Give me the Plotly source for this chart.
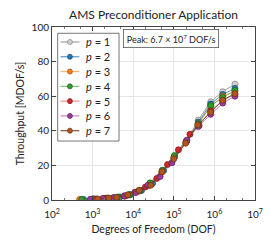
import plotly.graph_objects as go

title = "AMS Preconditioner Application"
orders = [1, 2, 3, 4, 5, 6, 7]
legend_labels = [f"<i>p</i> = {p}" for p in orders]

dof_p1 = [520, 1040, 2080, 4160, 8000, 15000, 27000, 52000, 102000, 205000, 400000, 810000, 1600000, 3200000]
dof_p2 = [600, 1200, 2400, 4700, 8500, 16000, 30000, 56000, 104000, 206000, 400000, 810000, 1600000, 3200000]
dof_p3 = [480, 960, 1900, 3800, 7000, 13000, 25000, 50000, 100000, 200000, 395000, 810000, 1600000, 3200000]
dof_p4 = [540, 1080, 2200, 4300, 8200, 14500, 26000, 52000, 104000, 205000, 400000, 810000, 1600000, 3200000]
dof_p5 = [1000, 1900, 3300, 6200, 11000, 20000, 38000, 70000, 130000, 250000, 420000, 810000, 1600000, 3200000]
dof_p6 = [880, 1750, 3200, 6000, 11500, 23000, 46000, 90000, 210000, 400000, 810000, 1600000, 3200000]
dof_p7 = [1330, 2500, 3900, 7400, 14000, 27000, 51500, 100000, 195000, 390000, 810000, 1600000, 3200000]

thr_p1 = [0.3, 0.6, 1.0, 1.6, 3.0, 5.4, 9.2, 16.6, 25.0, 34.2, 46.2, 56.8, 62.6, 67.0]
thr_p2 = [0.3, 0.6, 1.1, 1.7, 3.0, 5.5, 9.6, 17.0, 24.8, 33.8, 45.0, 55.5, 61.0, 64.5]
thr_p3 = [0.3, 0.5, 0.9, 1.5, 2.6, 4.8, 8.6, 16.0, 24.5, 33.5, 44.0, 54.0, 60.0, 63.0]
thr_p4 = [0.3, 0.6, 1.1, 1.7, 3.2, 5.6, 9.9, 17.2, 25.7, 34.0, 44.0, 54.6, 59.2, 63.3]
thr_p5 = [0.5, 0.9, 1.3, 2.2, 4.5, 7.5, 12.5, 20.5, 29.0, 38.0, 43.0, 51.5, 57.5, 61.0]
thr_p6 = [0.4, 0.8, 1.3, 2.4, 4.3, 8.5, 13.6, 21.5, 34.6, 42.5, 49.5, 56.0, 60.0]
thr_p7 = [0.6, 1.1, 1.5, 3.0, 5.6, 8.5, 16.4, 23.8, 32.8, 43.4, 50.8, 57.7, 61.5]

dofs = [dof_p1, dof_p2, dof_p3, dof_p4, dof_p5, dof_p6, dof_p7]
thrs = [thr_p1, thr_p2, thr_p3, thr_p4, thr_p5, thr_p6, thr_p7]

fills = ["#d0d0d0", "#1f77b4", "#ff7f0e", "#2ca02c", "#d62728", "#9e3a9e", "#b0561f"]
edges = ["#8a8a8a", "#174f7a", "#a4520a", "#1c661c", "#8a1a1a", "#642464", "#6e3612"]
lines = ["rgba(150,150,150,0.9)", "rgba(31,119,180,0.75)", "rgba(255,127,14,0.6)",
         "rgba(44,160,44,0.6)", "rgba(214,39,40,0.5)", "rgba(158,58,158,0.6)", "rgba(110,54,18,0.85)"]

x_tickvals = [1e2, 1e3, 1e4, 1e5, 1e6, 1e7]
x_ticktext = ["10<sup>2</sup>", "10<sup>3</sup>", "10<sup>4</sup>",
              "10<sup>5</sup>", "10<sup>6</sup>", "10<sup>7</sup>"]
y_tickvals = [0, 20, 40, 60, 80, 100]

font = "Lato, DejaVu Sans, sans-serif"

# Figure geometry (the page body adds an 8px offset)
W, H = 267, 237
ML, MR, MT, MB = 39, 13, 19, 39
PW, PH = W - ML - MR, H - MT - MB


def px(xp):  # page pixel -> paper x
    return (xp - 8 - ML) / PW


def py(yp):  # page pixel -> paper y
    return (H - MB + 8 - yp) / PH


fig = go.Figure()
for p, x, y, f, e, l in zip(orders, dofs, thrs, fills, edges, lines):
    fig.add_trace(go.Scatter(
        x=x, y=y, mode="lines+markers", name=f"p = {p}", showlegend=False,
        line=dict(color=l, width=1),
        marker=dict(size=6, color=f, line=dict(color=e, width=0.8)),
    ))

fig.update_layout(
    width=W, height=H,
    margin=dict(l=ML, r=MR, t=MT, b=MB),
    paper_bgcolor="white", plot_bgcolor="white",
    font=dict(family=font, size=10, color="#222"),
    title=dict(text=title, xref="paper", x=0.5, xanchor="center",
               yref="container", y=1 - 3 / H, yanchor="top", pad=dict(t=0),
               font=dict(size=12, family=font, color="#222")),
    showlegend=False,
    xaxis=dict(type="log", range=[2, 7], tickvals=x_tickvals, ticktext=x_ticktext,
               showgrid=True, gridcolor="#e6e6e6", gridwidth=0.8,
               showline=True, linecolor="#444", linewidth=1, mirror="ticks",
               ticks="inside", ticklen=4, tickcolor="#444", ticklabelstandoff=5,
               minor=dict(ticks="inside", ticklen=2, tickcolor="#777", showgrid=False),
               zeroline=False,
               title=dict(text="Degrees of Freedom (DOF)", standoff=6,
                          font=dict(size=10.5, family=font)),
               tickfont=dict(size=10, family=font)),
    yaxis=dict(range=[0, 100], tickvals=y_tickvals,
               showgrid=True, gridcolor="#e6e6e6", gridwidth=0.8,
               showline=True, linecolor="#444", linewidth=1, mirror="ticks",
               ticks="inside", ticklen=4, tickcolor="#444", zeroline=False,
               title=dict(text="Throughput [MDOF/s]", standoff=4,
                          font=dict(size=10.5, family=font)),
               tickfont=dict(size=10, family=font)),
)

# Peak annotation box
fig.add_annotation(
    xref="paper", yref="paper", x=px(122.5), y=py(29.5), xanchor="left", yanchor="top",
    text="Peak: 6.7 × 10<sup>7</sup> DOF/s", showarrow=False,
    font=dict(size=9, family=font, color="#222"),
    bgcolor="white", bordercolor="#555", borderwidth=0.8, borderpad=3,
)

# Legend (compact, drawn in paper coordinates)
shapes = [dict(type="rect", xref="paper", yref="paper",
               x0=px(53), x1=px(118), y0=py(145), y1=py(33.5),
               line=dict(color="#555", width=0.8), fillcolor="white", layer="above")]
r = 2.6
for i, (lab, f, e, l) in enumerate(zip(legend_labels, fills, edges, lines)):
    yc = 42.5 + 15.3 * i
    shapes.append(dict(type="line", xref="paper", yref="paper",
                       x0=px(56), x1=px(76), y0=py(yc), y1=py(yc),
                       line=dict(color=l, width=1.2), layer="above"))
    shapes.append(dict(type="circle", xref="paper", yref="paper",
                       x0=px(66 - r), x1=px(66 + r), y0=py(yc + r), y1=py(yc - r),
                       fillcolor=f, line=dict(color=e, width=0.8), layer="above"))
    fig.add_annotation(xref="paper", yref="paper", x=px(81), y=py(yc),
                       xanchor="left", yanchor="middle", showarrow=False,
                       text=lab, font=dict(size=11, family=font, color="#222"))
fig.update_layout(shapes=shapes)

fig.write_html("out.html")
